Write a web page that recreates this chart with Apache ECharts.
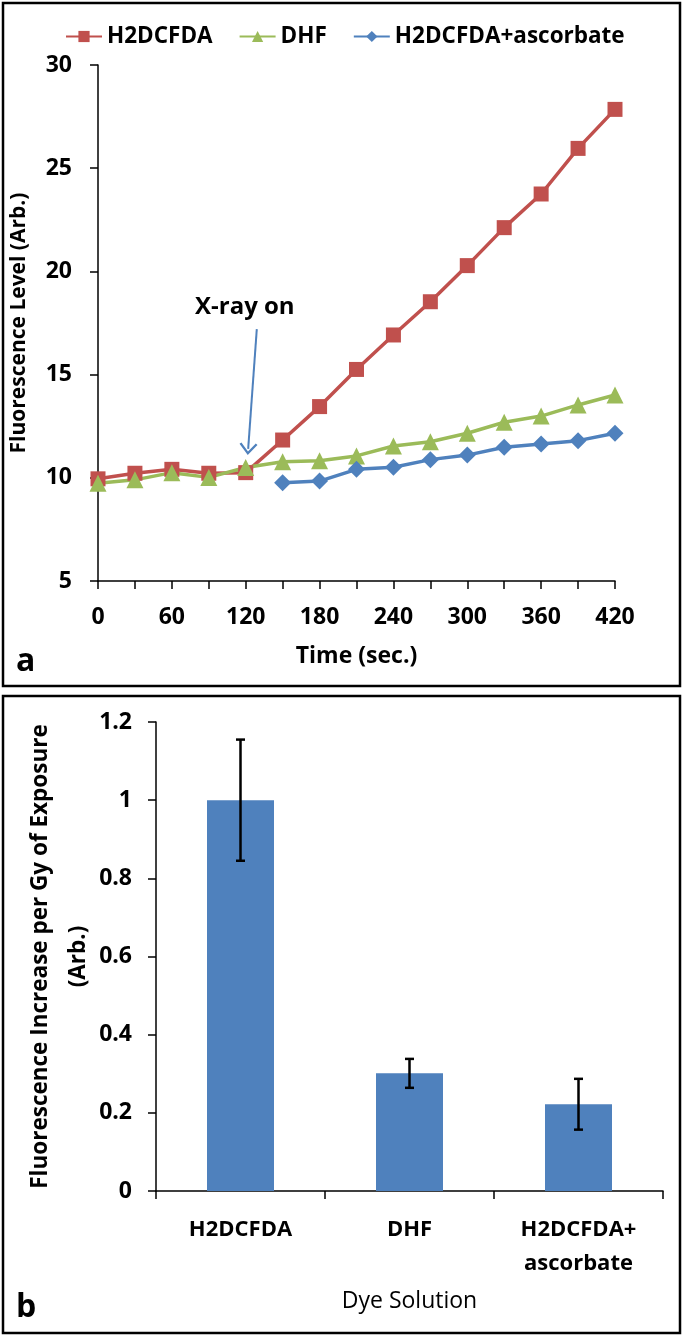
<!DOCTYPE html>
<html><head><meta charset="utf-8">
<script src="https://cdn.jsdelivr.net/npm/echarts@6/dist/echarts.min.js"></script>
<style>html,body{margin:0;padding:0;background:#fff}#c{width:685px;height:1337px}</style>
</head><body><div id="c"></div>
<script>
// ---- Panel a data ----
const timeSec = [0,30,60,90,120,150,180,210,240,270,300,330,360,390,420];
const h2dcfda = [9.95,10.22,10.41,10.22,10.25,11.83,13.45,15.25,16.92,18.53,20.28,22.12,23.75,25.96,27.85];
const dhf = [9.74,9.9,10.25,10.02,10.5,10.78,10.83,11.06,11.54,11.75,12.16,12.69,12.99,13.53,14.01];
const ascorbate = [null,null,null,null,null,9.76,9.84,10.41,10.51,10.88,11.1,11.48,11.64,11.8,12.16];
const seriesNames = ['H2DCFDA','DHF','H2DCFDA+ascorbate'];
// ---- Panel b data ----
const dyes = ['H2DCFDA','DHF','H2DCFDA+\nascorbate'];
const increasePerGy = [1.0, 0.301, 0.222];
const errorPerGy = [0.155, 0.037, 0.065];

const FONT = 'Open Sans';
const chart = echarts.init(document.getElementById('c'), null, {renderer:'canvas'});
const pair = (xs, ys) => xs.map((x,i)=>[x, ys[i]]);
const axisLine = {show:true, lineStyle:{color:'#000', width:1.5}};
const tick = {show:true, inside:false, length:8, lineStyle:{color:'#000', width:1.5}};
const lbl = (sz)=>({color:'#000', fontFamily:FONT, fontWeight:'bold', fontSize:sz});

const chevron = 'path://M5,0 L10,7 L9,8 L5,2.2 L1,8 L0,7 Z';

chart.setOption({
  animation:false,
  textStyle:{fontFamily:FONT},
  graphic:[
    {type:'rect', shape:{x:3,y:3,width:677,height:683}, style:{fill:'none', stroke:'#000', lineWidth:2.5}},
    {type:'rect', shape:{x:3,y:696,width:677,height:637}, style:{fill:'none', stroke:'#000', lineWidth:2.5}},
    {type:'text', left:16, top:646, style:{text:'a', font:'bold 32px "Open Sans"', fill:'#000'}},
    {type:'text', left:16, top:1292, style:{text:'b', font:'bold 32px "Open Sans"', fill:'#000'}},
    {type:'text', left:195, top:295, style:{text:'X-ray on', font:'bold 24px "Open Sans"', fill:'#000'}}
  ],
  legend:{
    data:seriesNames, left:65, top:25, padding:0, itemWidth:36, itemHeight:14, itemGap:26,
    textStyle:lbl(22.5)
  },
  grid:[
    {left:98, top:65, width:517, height:516},
    {left:156, top:722, width:507, height:469}
  ],
  xAxis:[
    {gridIndex:0, type:'value', min:0, max:420, interval:30,
     name:'Time (sec.)', nameLocation:'middle', nameGap:64, nameTextStyle:lbl(23),
     axisLine, axisTick:tick, splitLine:{show:false},
     axisLabel:Object.assign(lbl(23), {margin:25, formatter:v=> (v%60===0? String(v):'')})},
    {gridIndex:1, type:'category', data:dyes,
     name:'Dye Solution', nameLocation:'middle', nameGap:99,
     nameTextStyle:{color:'#000', fontFamily:FONT, fontSize:23, fontWeight:'normal'},
     axisLine, axisTick:tick, splitLine:{show:false},
     axisLabel:Object.assign(lbl(22), {margin:22, lineHeight:34})}
  ],
  yAxis:[
    {gridIndex:0, type:'value', min:5, max:30, interval:5,
     name:'Fluorescence Level (Arb.)', nameLocation:'middle', nameGap:68, nameRotate:90,
     nameMoveOverlap:false, nameTextStyle:lbl(21),
     axisLine, axisTick:tick, splitLine:{show:false},
     axisLabel:Object.assign(lbl(23), {margin:26})},
    {gridIndex:1, type:'value', min:0, max:1.2, interval:0.2,
     name:'Fluorescence Increase per Gy of Exposure\n(Arb.)', nameLocation:'middle', nameGap:58, nameRotate:90,
     nameMoveOverlap:false, nameTextStyle:Object.assign(lbl(22.5), {lineHeight:38}),
     axisLine, axisTick:tick, splitLine:{show:false},
     axisLabel:Object.assign(lbl(23), {margin:24})}
  ],
  series:[
    {name:seriesNames[0], type:'line', xAxisIndex:0, yAxisIndex:0, data:pair(timeSec,h2dcfda),
     symbol:'rect', symbolSize:15, itemStyle:{color:'#C0504D'}, lineStyle:{color:'#C0504D', width:3.5},
     markLine:{silent:true, symbol:['none', chevron], symbolSize:[18,12],
       lineStyle:{color:'#4F81BD', width:2, type:'solid'}, label:{show:false},
       data:[[{coord:[129,17.2]},{coord:[122,11.4]}]]}},
    {name:seriesNames[1], type:'line', xAxisIndex:0, yAxisIndex:0, data:pair(timeSec,dhf),
     symbol:'triangle', symbolSize:17, itemStyle:{color:'#9BBB59'}, lineStyle:{color:'#9BBB59', width:3.5}},
    {name:seriesNames[2], type:'line', xAxisIndex:0, yAxisIndex:0, data:pair(timeSec,ascorbate),
     symbol:'diamond', symbolSize:17, itemStyle:{color:'#4F81BD'}, lineStyle:{color:'#4F81BD', width:3.5}},
    {name:'bars', type:'bar', xAxisIndex:1, yAxisIndex:1, data:increasePerGy, barWidth:67,
     itemStyle:{color:'#4F81BD'}},
    {name:'err', type:'custom', xAxisIndex:1, yAxisIndex:1, z:5,
     data:increasePerGy.map((v,i)=>[i, v-errorPerGy[i], v+errorPerGy[i]]),
     renderItem:(params, api)=>{
       const lo = api.coord([api.value(0), api.value(1)]);
       const hi = api.coord([api.value(0), api.value(2)]);
       const w = 4.5; const st = {stroke:'#000', lineWidth:2.5};
       return {type:'group', children:[
         {type:'line', shape:{x1:hi[0],y1:hi[1],x2:lo[0],y2:lo[1]}, style:st},
         {type:'line', shape:{x1:hi[0]-w,y1:hi[1],x2:hi[0]+w,y2:hi[1]}, style:st},
         {type:'line', shape:{x1:lo[0]-w,y1:lo[1],x2:lo[0]+w,y2:lo[1]}, style:st}
       ]};
     }}
  ]
});
</script></body></html>
